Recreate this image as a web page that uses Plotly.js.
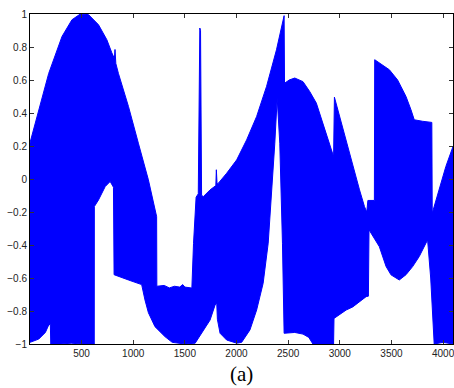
<!DOCTYPE html>
<html>
<head>
<meta charset="utf-8">
<script src="https://cdn.plot.ly/plotly-3.0.1.min.js"></script>
<style>html,body{margin:0;padding:0;background:#fff;}#chart{width:454px;height:388px;}</style>
</head>
<body>
<div id="chart"></div>
<script>
// Upper envelope of the oscillating signal
var upperX = [1, 86, 182, 311, 407, 488, 568, 664, 745, 793, 818, 824, 832, 857, 954, 1050, 1147, 1227, 1229,
  1300, 1350, 1400, 1450, 1480, 1500, 1560, 1568, 1584, 1609, 1630, 1640, 1645, 1652, 1662, 1680, 1744, 1800, 1805, 1812,
  1825, 1905, 2002, 2098, 2195, 2291, 2387, 2461, 2465, 2510, 2564, 2644, 2709, 2773, 2837, 2901, 2940, 2948,
  2998, 3062, 3126, 3191, 3239, 3261, 3272, 3335, 3338, 3383, 3480, 3560, 3641, 3689, 3721, 3800, 3891, 3895,
  3962, 4027, 4096];
var upperY = [0.22, 0.42, 0.64, 0.864, 0.965, 1.0, 0.996, 0.935, 0.844, 0.765, 0.73, 0.785, 0.70, 0.64, 0.44, 0.217, -0.005, -0.228, -0.65,
  -0.645, -0.66, -0.65, -0.655, -0.64, -0.655, -0.66, -0.66, -0.39, -0.11, -0.09, 0.6, 0.915, 0.9, -0.1, -0.106, -0.066, -0.04, 0.056, -0.03,
  -0.025, 0.035, 0.116, 0.237, 0.379, 0.561, 0.783, 0.99, 0.58, 0.6, 0.612, 0.59, 0.53, 0.46, 0.339, 0.217, 0.136, 0.496,
  0.379, 0.237, 0.096, -0.066, -0.167, -0.2, -0.13, -0.13, 0.723, 0.702, 0.662, 0.6, 0.5, 0.42, 0.359, 0.35, 0.343, -0.207,
  -0.066, 0.076, 0.197];

// Lower envelope of the oscillating signal
var lowerX = [1, 86, 150, 182, 198, 202, 300, 400, 500, 623, 624, 664, 729, 777, 809, 815, 954, 1050, 1082, 1114,
  1147, 1211, 1307, 1378, 1500, 1600, 1680, 1744, 1793, 1809, 1815, 1841, 1905, 2002, 2050, 2130, 2195, 2258,
  2307, 2339, 2371, 2394, 2419, 2445, 2461, 2564, 2644, 2700, 2740, 2800, 2940, 2944, 2998, 3062, 3126, 3191,
  3255, 3277, 3283, 3383, 3448, 3496, 3576, 3641, 3705, 3769, 3834, 3850, 3880, 3914, 4000, 4096];
var lowerY = [-0.99, -0.97, -0.93, -0.885, -0.88, -1.0, -1.0, -0.995, -1.0, -1.0, -0.167, -0.127, -0.046, -0.015, -0.05, -0.58, -0.612, -0.63, -0.64, -0.733,
  -0.81, -0.895, -0.955, -0.99, -1.0, -0.995, -0.915, -0.855, -0.763, -0.753, -0.85, -0.935, -0.976, -0.995, -0.99, -0.915, -0.794, -0.632,
  -0.389, -0.106, 0.217, 0.49, 0.217, -0.389, -0.935, -0.93, -0.94, -0.96, -1.0, -1.0, -1.0, -0.845, -0.82, -0.794, -0.775, -0.743,
  -0.713, -0.71, -0.308, -0.41, -0.53, -0.581, -0.612, -0.58, -0.531, -0.47, -0.389, -0.369, -0.6, -1.0, -0.99, -1.0];

var xTicks = [500, 1000, 1500, 2000, 2500, 3000, 3500, 4000];
var yTicks = [-1, -0.8, -0.6, -0.4, -0.2, 0, 0.2, 0.4, 0.6, 0.8, 1];
var captionText = '(a)';

var blue = '#0000FF';
var traces = [
  {x: upperX, y: upperY, type: 'scatter', mode: 'lines', line: {color: blue, width: 1}, hoverinfo: 'skip'},
  {x: lowerX, y: lowerY, type: 'scatter', mode: 'lines', line: {color: blue, width: 1}, fill: 'tonexty', fillcolor: blue, hoverinfo: 'skip'}
];

var axisCommon = {
  showgrid: false, zeroline: false, showline: true, linecolor: '#000', linewidth: 1,
  mirror: 'ticks', ticks: 'inside', ticklen: 4, tickwidth: 1, tickcolor: '#333',
  ticklabeloverflow: 'allow',
  tickfont: {family: 'Liberation Sans, Arial, sans-serif', size: 10, color: '#222'}
};

var layout = {
  width: 454, height: 388, autosize: false,
  margin: {l: 30, r: 1, t: 14, b: 44},
  paper_bgcolor: '#fff', plot_bgcolor: '#fff',
  showlegend: false,
  xaxis: Object.assign({}, axisCommon, {range: [1, 4096], tickvals: xTicks, ticktext: xTicks.map(String)}),
  yaxis: Object.assign({}, axisCommon, {range: [-1, 1], tickvals: yTicks}),
  annotations: [{
    text: captionText, xref: 'paper', yref: 'paper', x: 0.5, y: -0.133, xanchor: 'center', yanchor: 'bottom',
    showarrow: false, font: {family: 'Liberation Serif, DejaVu Serif, serif', size: 21, color: '#000'}
  }]
};

Plotly.newPlot('chart', traces, layout, {staticPlot: true, displayModeBar: false});
</script>
</body>
</html>
